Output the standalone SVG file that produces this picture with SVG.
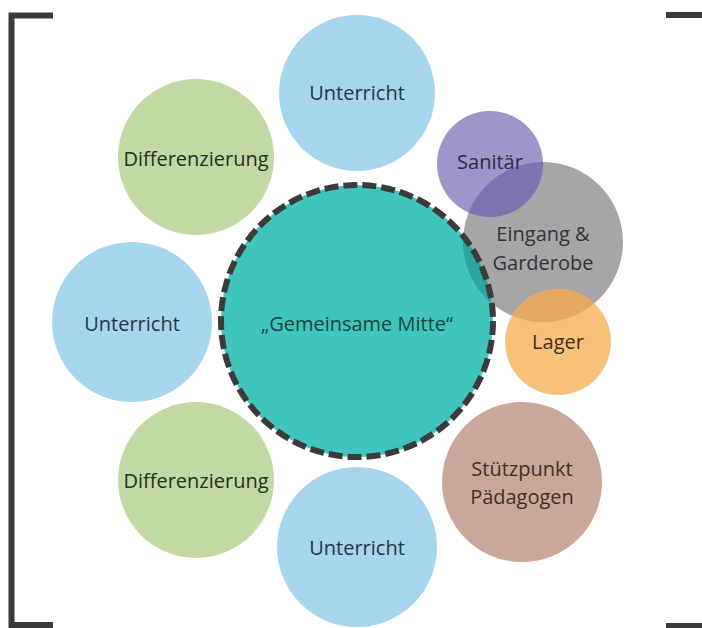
<svg xmlns="http://www.w3.org/2000/svg" width="702" height="628" viewBox="0 0 702 628">
  <style>
    .lbl { font-family: "Open Sans", "Noto Sans", "Liberation Sans", sans-serif; font-size: 20px; text-anchor: middle; dominant-baseline: central; }
    .bracket { fill: none; stroke: #3a3a3a; stroke-width: 6; stroke-linecap: butt; }
    .blue { fill: #a6d5ee; }
    .green { fill: #c1d9a3; }
    .t-blue { fill: #243846; }
    .t-green { fill: #26301d; }
  </style>
  <defs>
    <clipPath id="clip-eingang">
      <circle cx="543" cy="242" r="80"/>
    </clipPath>
    <clipPath id="clip-mitte-inner">
      <circle cx="357" cy="321" r="136"/>
    </clipPath>
  </defs>

  <rect width="702" height="628" fill="#ffffff"/>

  <!-- frame brackets -->
  <g id="brackets">
    <path class="bracket" d="M53,15.5 H11.5 V625 H53"/>
    <path class="bracket" d="M666,15 H702"/>
    <path class="bracket" d="M666,626 H702"/>
  </g>

  <!-- no connectors in this layout -->
  <g id="connectors"/>

  <g id="unterricht-oben">
    <circle class="blue" cx="357" cy="93" r="78"/>
    <text class="lbl t-blue" x="357" y="92">Unterricht</text>
  </g>

  <g id="differenzierung-oben">
    <circle class="green" cx="196" cy="157" r="78"/>
    <text class="lbl t-green" x="196" y="158">Differenzierung</text>
  </g>

  <g id="unterricht-links">
    <circle class="blue" cx="132" cy="322" r="80"/>
    <text class="lbl t-blue" x="132" y="323">Unterricht</text>
  </g>

  <g id="differenzierung-unten">
    <circle class="green" cx="196" cy="480" r="78"/>
    <text class="lbl t-green" x="196" y="480">Differenzierung</text>
  </g>

  <g id="unterricht-unten">
    <circle class="blue" cx="357" cy="547" r="80"/>
    <text class="lbl t-blue" x="357" y="547">Unterricht</text>
  </g>

  <g id="stuetzpunkt">
    <circle cx="522" cy="482" r="80" fill="#caa899"/>
    <text class="lbl" fill="#3e2f29" x="522" y="468">Stützpunkt</text>
    <text class="lbl" fill="#3e2f29" x="522" y="496">Pädagogen</text>
  </g>

  <g id="sanitaer">
    <circle cx="490" cy="164" r="53" fill="#9e96c9"/>
  </g>

  <g id="eingang">
    <circle cx="543" cy="242" r="80" fill="#a6a6a8"/>
    <!-- shared area with Sanitär -->
    <circle cx="490" cy="164" r="53" fill="#7e72b0" clip-path="url(#clip-eingang)"/>
    <text class="lbl" fill="#333335" x="543" y="233">Eingang &amp;</text>
    <text class="lbl" fill="#333335" x="543" y="262">Garderobe</text>
  </g>

  <!-- Sanitär label sits above the shared area -->
  <text class="lbl" fill="#302b48" x="490" y="161">Sanitär</text>

  <g id="lager">
    <circle cx="558" cy="342" r="53" fill="#f8c17a"/>
    <circle cx="558" cy="342" r="53" fill="#e3a864" clip-path="url(#clip-eingang)"/>
    <text class="lbl" fill="#3e311c" x="558" y="341">Lager</text>
  </g>

  <g id="gemeinsame-mitte">
    <circle cx="357" cy="321" r="136" fill="#3fc5bc"/>
    <!-- shared area with Eingang -->
    <circle cx="543" cy="242" r="80" fill="#2ca59c" clip-path="url(#clip-mitte-inner)"/>
    <circle cx="357" cy="321" r="136" fill="none" stroke="#3b3b3b" stroke-width="6" stroke-dasharray="14 5"/>
    <text class="lbl" fill="#1a4542" x="357" y="323">„Gemeinsame Mitte“</text>
  </g>
</svg>
